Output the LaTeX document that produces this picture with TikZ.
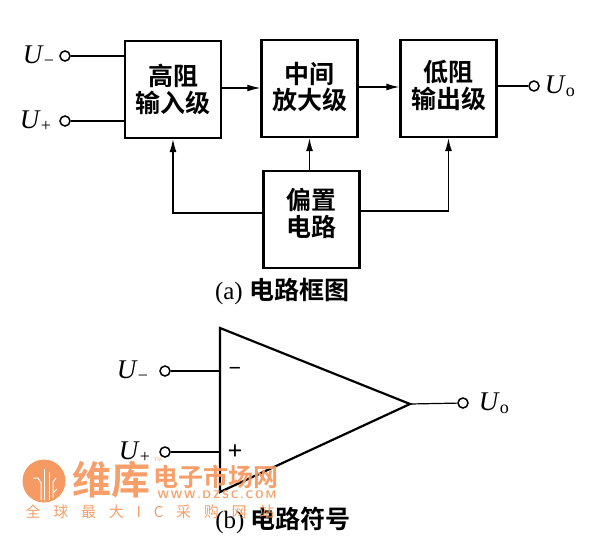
\documentclass[tikz,border=0pt]{standalone}
\usepackage{fontspec}
\setmainfont{Liberation Serif}
\newfontfamily\cjk{Noto Sans CJK SC Bold}
\newfontfamily\wmark[LetterSpace=85]{Noto Sans CJK SC}
\newfontfamily\wmlogo{Noto Sans CJK SC Bold}
\usetikzlibrary{arrows.meta,positioning,calc}
\definecolor{wmorange}{HTML}{F59A62}
\tikzset{
  x=1pt, y=-1pt,
  block/.style = {draw=black, line width=2.4pt, minimum width=96pt, minimum height=97pt, align=center, inner sep=0pt, font=\cjk\fontsize{25}{26.5}\selectfont},
  term/.style = {circle, draw=black, line width=1.5pt, fill=white, minimum size=10pt, inner sep=0pt},
  lab/.style = {inner sep=0pt, font=\fontsize{27}{27}\selectfont},
  wire/.style = {line width=1.2pt},
  feed/.style = {wire, -{Latex[length=13pt,width=7pt]}},
  caption/.style = {inner sep=0pt, font=\fontsize{25}{25}\selectfont},
  wmtext/.style = {inner sep=0pt, text=wmorange, opacity=0.95},
  chip/.style = {white, line width=1pt}
}
\newcommand{\volt}[1]{\textit{U}\raisebox{-3pt}{\fontsize{18}{18}\selectfont #1}}

\begin{document}
\begin{tikzpicture}
\useasboundingbox (0,0) rectangle (600,546);
% block diagram
\node [block] (hi) at (173,89.5) {高阻\\输入级};
\node [block, text depth=5pt] (mid) at (309.5,88.5) {中间\\放大级};
\node [block, text depth=8pt] (lo) at (448.5,88.5) {低阻\\输出级};
\node [block, text depth=14pt] (bias) at (311.5,219.5) {偏置\\电路};
\node [term] (a1) at (65,56) {};
\node [term] (a2) at (65,121) {};
\node [term] (a3) at (534,86) {};
\node [lab, left=5pt of a1] (a1l) {\volt{−}};
\node [lab, left=8pt of a2] (a2l) {\volt{+}};
\node [lab, right=5pt of a3] (a3l) {\volt{o}};
\draw [wire] (a1) -- (a1-|hi.west);
\draw [wire] (a2) -- (a2-|hi.west);
\draw [wire] (lo.east|-a3) -- (a3);
\draw [feed] (hi.east|-0,88) -- (mid.west|-0,88);
\draw [feed] (mid.east|-0,87) -- (lo.west|-0,87);
\draw [feed] (bias.north-|mid.south) -- (mid.south);
\draw [feed] (bias.west|-0,213) -| (hi.south);
\draw [feed] (bias.east|-0,211) -| (lo.south);
\node [caption] (capa) at (282,292) {(a) {\cjk 电路框图}};
% symbol
\coordinate (tl) at (220,328);
\coordinate (tr) at (410,404);
\coordinate (bl) at (220,492);
\draw [line width=2.2pt, line join=miter] (tl) -- (tr) -- (bl) -- cycle;
\node [term] (b1) at (165,371) {};
\node [term] (b2) at (165,452) {};
\node [term] (b3) at (463,403) {};
\node [lab, left=11pt of b1] (b1l) {\volt{−}};
\node [lab, left=9pt of b2] (b2l) {\volt{+}};
\node [lab, right=10pt of b3] (b3l) {\volt{o}};
\draw [wire] (b1) -- (b1-|tl);
\draw [wire] (b2) -- (b2-|tl);
\draw [wire] (tr) -- (b3);
\node [lab, font=\bfseries\fontsize{22}{22}\selectfont] (minus) at (235,371) {−};
\node [lab, font=\bfseries\fontsize{26}{26}\selectfont] (plus) at (235,452) {+};
\node [caption] (capb) at (283,520) {(b) {\cjk 电路符号}};
% watermark
\node [circle, fill=wmorange, minimum size=43pt, inner sep=0pt] (logo) at (44,481) {};
\draw [chip] (33,478) -- (38,478) -- (41,483) -- (41,500);
\draw [chip] (44,469) -- (44,500) (49,472) -- (49,500);
\draw [chip] (56,478) -- (53,482) -- (53,498);
\draw [chip] (57,489) -- (53,493);
\node [wmtext, font=\wmlogo\fontsize{39}{39}\selectfont] (wm1) at (111,480) {维库};
\node [wmtext, font=\wmlogo\fontsize{25}{25}\selectfont] (wm2) at (216,477) {电子市场网};
\node [wmtext, font=\sffamily\bfseries\fontsize{11}{11}\selectfont] (wm3) at (217,495) {W\,W\,W\,.\,D\,Z\,S\,C\,.\,C\,O\,M};
\node [wmtext, font=\wmark\fontsize{15}{15}\selectfont] (wm4) at (150,512) {全球最大IC采购网站};
\node [wmtext, font=\sffamily\fontsize{5}{5}\selectfont] (wm5) at (158,460) {TM};
\end{tikzpicture}
\end{document}
